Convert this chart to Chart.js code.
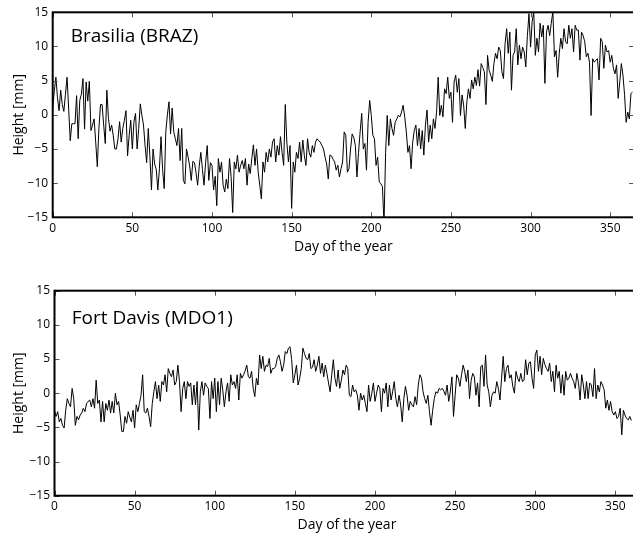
<!DOCTYPE html>
<html>
<head>
<meta charset="utf-8">
<script src="https://cdn.jsdelivr.net/npm/chart.js@4.4.1/dist/chart.umd.min.js"></script>
<style>
  html, body { margin: 0; padding: 0; background: #fff; overflow: hidden; width: 633px; height: 536px; }
  canvas { position: absolute; left: 0; }
  #braz { top: 0; }
  #mdo1 { top: 268px; }
</style>
</head>
<body>
<canvas id="braz" width="645" height="258"></canvas>
<canvas id="mdo1" width="650" height="268"></canvas>
<script>
// ---- data ----
const dayTicks = [0, 50, 100, 150, 200, 250, 300, 350];
const heightTicks = [-15, -10, -5, 0, 5, 10, 15];
const panelTitles = ['Brasilia (BRAZ)', 'Fort Davis (MDO1)'];
const xTitle = 'Day of the year';
const yTitle = 'Height [mm]';

// Brasilia (BRAZ), day 0 .. 364, height in mm
const brazHeight = [
  0.9, 3.5, 5.5, 2.5, 0.6, 3.6, 1.5, 0.5, 3.0, 5.5,
  1.0, -3.8, -1.3, -1.3, -1.3, 2.8, -3.5, 2.1, 3.0, 5.3,
  -2.1, 4.8, 2.0, 4.9, -2.3, -1.5, -0.6, -4.0, -7.6, -2.0,
  1.5, 1.5, -1.5, -4.2, 3.6, -0.5, -2.4, -1.5, -3.0, -5.0,
  -5.0, -3.5, -1.0, -4.0, -2.0, -0.8, 0.6, -6.0, -3.0, -0.8,
  -5.0, -1.0, 0.2, -5.0, -2.0, 1.6, -0.1, -1.5, -4.5, -7.0,
  -2.0, -6.0, -11.0, -5.0, -7.2, -8.0, -11.0, -7.9, -3.2, -8.0,
  -10.8, -2.5, 0.0, 1.9, -2.8, 1.0, -2.5, -3.5, -4.5, -2.0,
  -6.7, -2.0, -9.6, -10.1, -5.0, -6.2, -7.5, -9.6, -6.8,
  -7.0, -8.5, -10.3, -7.5, -5.5, -8.0, -10.3, -7.0, -4.5, -9.6,
  -7.0, -7.4, -11.0, -9.0, -13.3, -6.4, -8.4, -6.9, -10.3, -11.3,
  -9.4, -10.8, -6.4, -9.0, -14.3, -6.9, -7.9, -5.9, -8.4, -7.4,
  -6.7, -7.9, -6.4, -10.3, -7.2, -8.6, -6.4, -4.4, -7.4, -5.0,
  -8.4, -10.3, -12.3, -6.9, -8.4, -5.5, -6.9, -5.0, -6.2, -4.0,
  -3.5, -6.9, -4.5, -5.9, -3.2, -5.5, -7.4, 1.5, -4.0, -6.9,
  -4.5, -13.7, -6.9, -8.4, -5.5, -6.4, -4.0, -6.9, -3.7, -6.0,
  -7.4, -3.5, -5.5, -6.2, -4.5, -5.5, -4.0, -3.5, -3.8, -4.0,
  -4.5, -5.0, -6.2, -7.2, -9.4, -5.9, -6.0, -6.5, -6.9, -8.1,
  -7.4, -9.1,
  -7.9, -6.9, -2.5, -3.0, -8.4, -7.9, -5.0, -2.8, -3.3, -4.5,
  -9.1, -5.5, -2.5, 0.2, -5.0, -4.2, -8.1, -1.1, 2.1, -0.1,
  -3.0, -3.5, -7.4, -6.2, -9.8, -10.1, -10.5, -16.0, -5.5, -0.1,
  -4.5, -0.6, -2.0, -3.0, -1.1, -0.6, -0.1, -0.3, 0.4, 1.4,
  -0.3, -2.5, -5.5, -4.5, -7.9, -4.0, -2.3, -1.5, -4.5, -2.0,
  -5.0, -2.3, -5.9, -1.5, 0.7, -4.0, -1.5, -3.5, -0.6, -2.0,
  0.4, 5.5, -0.1, 1.4, -0.3, 3.8, 3.1, 5.5, 2.4, 3.3,
  -1.1, 4.8, 5.8, 3.3, 5.3, -0.1, 2.9, 1.4, -2.0, 1.9,
  3.8, 2.4, 5.1, 3.8, 5.5, 4.3, 6.6, 4.2, 7.5, 6.9,
  6.3, 1.5, 8.7, 6.5, 5.8, 4.9, 7.5, 9.0, 8.2, 9.9,
  9.4, 6.3, 5.3, 10.4, 12.6, 9.0, 12.1, 3.6, 8.7, 9.2,
  12.6, 7.3, 10.2, 8.2, 9.9, 9.2, 7.0, 11.6, 14.8, 9.9,
  13.6, 15.1, 8.7, 11.2, 9.2, 13.4, 11.4, 13.1, 4.6, 12.1,
  13.1, 11.6, 13.4, 15.1, 8.5, 9.4, 5.5, 9.0, 11.2, 9.7,
  12.6, 10.7, 10.4, 13.1, 11.2, 12.6, 9.2, 13.1, 12.4, 12.4,
  8.0, 12.1, 11.6, 10.7, 8.5, 9.0, 7.7, -0.1, 8.2, 7.7,
  8.0, 8.2, 5.1, 11.2, 10.7, 6.8, 10.2, 9.2, 9.4, 7.7,
  8.7, 6.8, 6.0, 7.3, 2.4, 4.8, 7.5, 5.8, 3.0, -1.1,
  0.4, -0.6, 3.1, 3.3
];

// Fort Davis (MDO1), day 0 .. 360, height in mm
const mdo1Height = [
  -2.5, -3.4, -2.7, -4.2, -3.7, -4.7, -5.1, -2.5, -0.8, -1.5,
  -2.0, 0.7, -0.8, -4.7, -3.4, -3.9, -3.2, -2.9, -2.2, -2.7,
  -1.5, -1.2, -1.0, -2.0, -0.8, -2.2, 1.9, -1.5, -1.0, -4.2,
  -1.2, -4.2, -1.5, -2.5, -1.0, -2.9, -1.2, -2.9, 0.0, -1.7,
  -1.2, -3.2, -5.6, -5.6, -3.4, -4.4, -2.7, -3.5, -4.2, -2.5,
  -5.1, -1.7, -2.7, -1.5, -0.3, 2.7, -2.7, -2.9, -2.2, -3.4,
  -4.9, -1.5, 0.2, 1.7, -0.8, 1.2, -1.2, 1.7, 1.2, 2.7,
  0.2, 3.6, 2.9, 2.4, 3.4, 1.2, 1.7, 4.1, 1.7, -2.7,
  0.7, 1.7, -0.8, 1.7, 1.0, 1.5, -1.7, 1.2,
  -1.7, 1.7, -5.4, 0.2, 1.7, -0.3, 1.5, 1.0, 0.7, -3.7,
  1.7, -0.8, 2.2, -2.7, 1.7, -1.7, 2.2, 0.5, -2.0, 0.2,
  1.5, -1.2, 2.7, 1.2, 1.7, 0.7, 2.7, -1.0, 2.9, 2.2,
  2.7, 3.3, 4.1, 2.4, 2.2, 3.2, 0.7, -0.5, 2.2, 1.2,
  5.6, 3.6, 5.4, 3.2, 4.1, 3.9, 5.1, 2.9, 3.6, 3.6,
  3.9, 5.1, 5.6, 4.6, 3.2, 4.1, 6.1, 5.8, 6.6, 6.8,
  4.9, 1.5, 2.7, 4.1, 1.2, 2.2, 3.6, 6.6, 5.8, 5.1,
  4.9, 5.8, 3.6, 3.8, 4.9, 3.2, 4.1, 5.4, 2.9, 4.4,
  2.4, 4.1, 2.9, 1.5, 0.2, 2.7, 4.9, 2.2, 1.0, 3.4,
  0.7,
  1.9, 3.4, 2.7, 4.1, 3.6, -0.3, -0.5, 1.2, 0.2, 0.5,
  -0.3, -2.5, 0.0, -1.0, -0.3, -1.5, -2.7, 1.2, -1.2, 0.0,
  1.5, -1.2, 0.0, 1.2, 0.7, -2.7, 0.7, 0.0, 1.5, -2.0,
  1.2, -1.0, 0.2, 1.7, -0.8, -2.0, -0.3, -1.7, -4.2, -0.8,
  1.0, -0.3, -2.5, -1.2, -1.7, -2.0, -0.5, -1.7, 1.2, 2.7,
  2.2, 0.2, -0.8, -1.5, -0.3, -2.7, -4.7, -2.5, -0.8, 0.2,
  0.0, 0.7, 0.5, 0.7, 0.3, -0.3, 1.2, -1.2, 0.2, 2.4,
  -3.4, -0.3, 2.7, 2.2, 1.0, 2.7, 4.1, 3.2, 1.7, 3.4,
  -0.8, 1.9, 2.9, 2.4, -0.3, 1.5, -2.0, 3.9, 4.1, 1.0,
  5.6, 1.2, 0.2, -2.0, -0.3, 0.2, 0.0, 1.7, 0.7, -1.0,
  2.2, 5.4, 1.7, 3.6, 4.1, 2.2, 2.7, 1.0, 0.0, 3.2,
  2.2, 1.7, 2.9, 1.7, 1.9, 4.9, 2.7, 4.4, 4.6, 2.2,
  0.7, 5.6, 6.3, 3.2, 5.4, 2.7, 5.1, 4.2, 3.6, 3.2,
  4.4, 1.7, 3.2, 0.2, 4.1, 2.2, 3.2, 0.0, 2.7, -0.3,
  3.2, 1.9, 2.2, 2.9, 2.2, 1.7, 0.7, 2.9, 1.5, -1.0,
  2.7, 1.2, -0.8, 1.7, -0.8, 1.5, 1.2, -0.5, 3.6, -0.8,
  1.2, 0.2, 1.7, 1.2, 0.5, -2.2, -1.0, -2.5, -1.2, -2.7,
  -3.2, -2.7, -3.7, -3.4, -2.2, -6.1, -2.5, -3.2, -3.7, -3.9,
  -3.4, -4.0
];

// ---- rendering ----
const FONT = "'Open Sans', 'DejaVu Sans', sans-serif";
const fmtTick = v => (v < 0 ? '\u2212' + Math.abs(v) : String(v));

function matlabBox(title, titleDx, titleDy) {
  return {
    id: 'matlabBox',
    afterDatasetsDraw(chart) {
      const { ctx, chartArea: a, scales } = chart;
      ctx.save();
      // inward tick marks on all four sides
      ctx.strokeStyle = '#555';
      ctx.lineWidth = 1;
      ctx.beginPath();
      const tl = 5;
      dayTicks.forEach(d => {
        const x = Math.round(scales.x.getPixelForValue(d)) + 0.5;
        ctx.moveTo(x, a.bottom); ctx.lineTo(x, a.bottom - tl);
        ctx.moveTo(x, a.top); ctx.lineTo(x, a.top + tl);
      });
      heightTicks.forEach(h => {
        const y = Math.round(scales.y.getPixelForValue(h)) + 0.5;
        ctx.moveTo(a.left, y); ctx.lineTo(a.left + tl, y);
        ctx.moveTo(a.right, y); ctx.lineTo(a.right - tl, y);
      });
      ctx.stroke();
      // axes box
      ctx.strokeStyle = '#000';
      ctx.lineWidth = 2;
      ctx.strokeRect(a.left, a.top, a.right - a.left, a.bottom - a.top);
      // panel title
      ctx.fillStyle = '#000';
      ctx.font = '19px ' + FONT;
      ctx.textAlign = 'left';
      ctx.textBaseline = 'alphabetic';
      ctx.fillText(title, a.left + titleDx, a.top + titleDy);
      ctx.restore();
    }
  };
}

function makePanel(id, values, title, geom) {
  const points = values.map((v, day) => ({ x: day, y: v }));
  return new Chart(document.getElementById(id), {
    type: 'line',
    data: {
      datasets: [{
        data: points,
        borderColor: '#000',
        borderWidth: 1,
        pointRadius: 0,
        tension: 0,
        fill: false
      }]
    },
    options: {
      responsive: false,
      devicePixelRatio: 1,
      animation: false,
      events: [],
      layout: { padding: { top: geom.padTop, right: geom.padRight, left: 0, bottom: 0 } },
      plugins: { legend: { display: false }, tooltip: { enabled: false } },
      scales: {
        x: {
          type: 'linear',
          min: 0,
          max: 365,
          afterBuildTicks: s => { s.ticks = dayTicks.map(v => ({ value: v })); },
          afterFit: s => { s.height = geom.xHeight; },
          grid: { display: false, drawTicks: false },
          border: { display: false },
          ticks: { color: '#000', font: { family: FONT, size: 12 }, padding: 4, maxRotation: 0, autoSkip: false },
          title: { display: true, text: xTitle, color: '#000', font: { family: FONT, size: 14 }, padding: { top: 0, bottom: 2.6 } }
        },
        y: {
          type: 'linear',
          min: -15,
          max: 15,
          afterBuildTicks: s => { s.ticks = heightTicks.map(v => ({ value: v })); },
          afterFit: s => { s.width = geom.yWidth; },
          grid: { display: false, drawTicks: false },
          border: { display: false },
          ticks: { color: '#000', font: { family: FONT, size: 12 }, padding: 4.5, callback: fmtTick },
          title: { display: true, text: yTitle, color: '#000', font: { family: FONT, size: 14 }, padding: { top: 10.6, bottom: 0 } }
        }
      }
    },
    plugins: [matlabBox(title, geom.titleDx, geom.titleDy)]
  });
}

makePanel('braz', brazHeight, panelTitles[0],
  { padTop: 12.3, padRight: 10.9, xHeight: 40.7, yWidth: 52.7, titleDx: 18, titleDy: 30 });
makePanel('mdo1', mdo1Height, panelTitles[1],
  { padTop: 22.7, padRight: 10.6, xHeight: 40.3, yWidth: 54.5, titleDx: 17.2, titleDy: 33.3 });
</script>
</body>
</html>
